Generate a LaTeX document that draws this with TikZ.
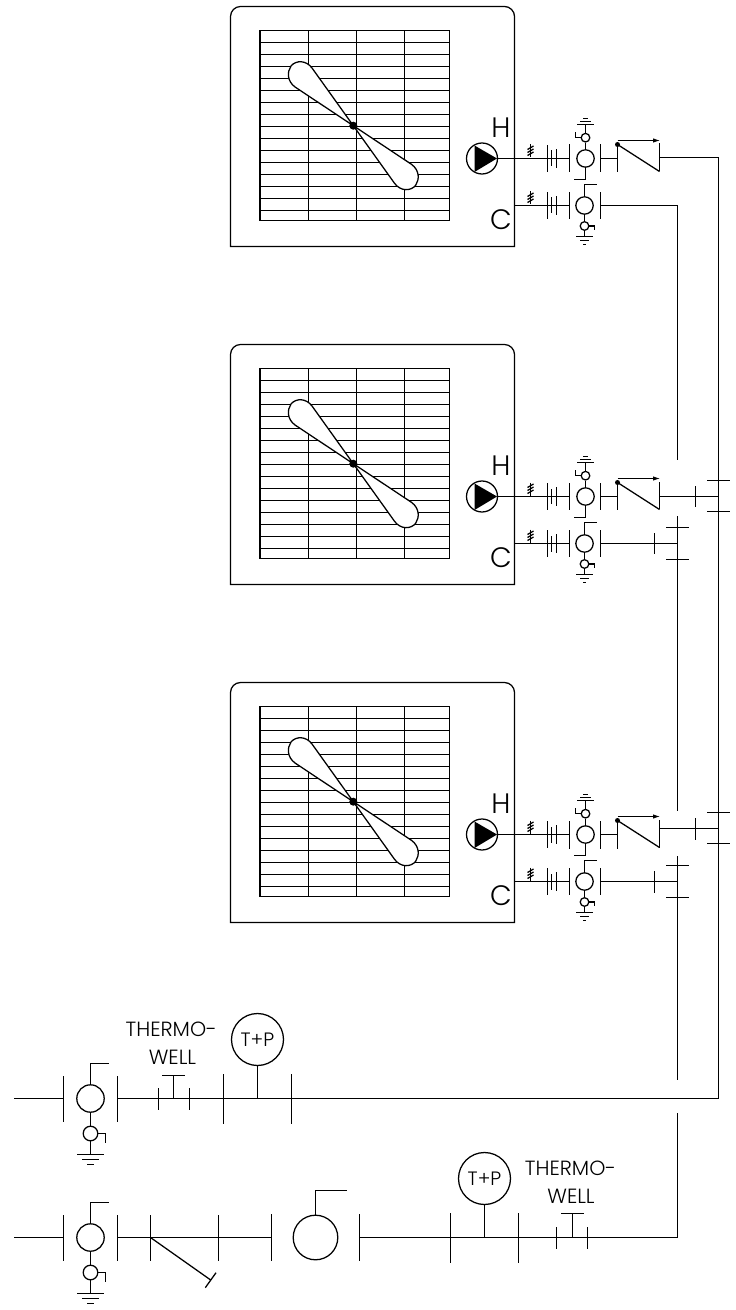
\documentclass[tikz,border=0pt]{standalone}
\usepackage{fontspec}
\setmainfont{Poppins Light}
\usetikzlibrary{arrows.meta}

\begin{document}
\begin{tikzpicture}[
    x=0.02cm, y=-0.02cm,
    line width=0.72pt,
    flange/.style={fill=black, inner sep=0pt, outer sep=0pt, minimum width=0.72pt, minimum height=#1},
    hbar/.style={fill=black, inner sep=0pt, outer sep=0pt, minimum height=0.72pt, minimum width=#1},
    valve/.style={circle, draw, fill=white, inner sep=0pt, minimum size=#1},
    gauge/.style={circle, draw, inner sep=0pt, minimum size=1.04cm, font=\fontsize{11}{12}\selectfont},
    tag/.style={font=\fontsize{16}{18}\selectfont},
    welltext/.style={font=\fontsize{11.7}{12}\selectfont, inner sep=0pt},
    arrow/.style={-{Latex[length=1.4mm, width=0.9mm]}, line width=0.55pt}
]
    \useasboundingbox (0,0) rectangle (735,1310);

    % Fan coil units
    \foreach \u/\dy in {a/0, b/338, c/676} {
        % Casing
        \draw (230.5,246.5+\dy) [rounded corners=0.2cm] -- (230.5,6.5+\dy) -- (514.5,6.5+\dy) -- (514.5,30+\dy) [sharp corners] -- (514.5,246.5+\dy) -- cycle;

        % Coil
        \draw (259.5,30.5+\dy) rectangle (449.5,220.5+\dy);
        \draw (260,30.5+\dy) -- (260,220.5+\dy);
        \foreach \vx in {308.5, 356.5, 404.5}
            \draw (\vx,30.5+\dy) -- (\vx,220.5+\dy);
        \foreach \r in {1,...,15}
            \draw (259.5,30.5+12*\r+\dy) -- (449.5,30.5+12*\r+\dy);

        % Fan
        \coordinate (hub\u) at (353.3,125.7+\dy);
        \draw[fill=white] (hub\u) -- (312,68+\dy) .. controls (306,60+\dy) and (296,60+\dy) .. (291,66+\dy)
            .. controls (287,72+\dy) and (287,81+\dy) .. (295,87+\dy) -- (hub\u);
        \draw[fill=white] (hub\u) -- (394.6,183.4+\dy) .. controls (400.6,191.4+\dy) and (410.6,191.4+\dy) .. (415.6,185.4+\dy)
            .. controls (419.6,179.4+\dy) and (419.6,170.4+\dy) .. (411.6,164.4+\dy) -- (hub\u);
        \fill (hub\u) circle (4);

        % Labels
        \node[tag] (tagH\u) at (501,128+\dy) {H};
        \node[tag] (tagC\u) at (501,220+\dy) {C};

        % Pump
        \node[valve=0.62cm] (pump\u) at (482,158.5+\dy) {};
        \fill (474.5,145.5+\dy) -- (497,158.5+\dy) -- (474.5,172+\dy) -- cycle;

        % Hot branch
        \node[flange=0.54cm] (uhA\u) at (547.5,158.5+\dy) {};
        \node[flange=0.32cm] (uhB\u) at (551.5,158.5+\dy) {};
        \node[flange=0.38cm] (uhC\u) at (556.5,158.5+\dy) {};
        \node[flange=0.56cm] (flHa\u) at (569.5,158.5+\dy) {};
        \node[valve=0.348cm] (valH\u) at (585.5,158.5+\dy) {};
        \node[flange=0.56cm] (flHb\u) at (600.5,158.5+\dy) {};
        \node[flange=0.56cm] (flHc\u) at (617.5,158.5+\dy) {};
        \node[flange=0.56cm] (flHd\u) at (659.5,157.5+\dy) {};
        \draw (pump\u.east) -- (flHa\u.center);
        \draw (flHb\u.center) -- (flHc\u.center);

        % Check valve
        \draw (flHc\u.north) -- (flHd\u.south);
        \fill (flHc\u.north) circle (2.5);
        \draw[arrow] (617.5,140.5+\dy) -- (660,140.5+\dy);

        % Hot side isolation valve
        \node[valve=0.172cm] (drnH\u) at (585.5,137.7+\dy) {};
        \node[hbar=0.34cm] (gndHa\u) at (585.5,124.5+\dy) {};
        \node[hbar=0.22cm] (gndHb\u) at (585.5,121.5+\dy) {};
        \node[hbar=0.1cm] (gndHc\u) at (585.5,118.5+\dy) {};
        \coordinate (hdlH\u) at (574,179.5+\dy);
        \coordinate (capH\u) at (575.5,132+\dy);
        \draw (valH\u.north) -- (drnH\u.south);
        \draw (drnH\u.north) -- (gndHa\u.center);
        \draw (valH\u.south) |- (hdlH\u);
        \draw (drnH\u.west) -| (capH\u);

        % Cold branch
        \node[flange=0.54cm] (ucA\u) at (547.5,205.5+\dy) {};
        \node[flange=0.32cm] (ucB\u) at (551.5,205.5+\dy) {};
        \node[flange=0.38cm] (ucC\u) at (556.5,205.5+\dy) {};
        \node[flange=0.54cm] (flCa\u) at (569.5,205.5+\dy) {};
        \node[valve=0.348cm] (valC\u) at (584.5,205.5+\dy) {};
        \node[flange=0.54cm] (flCb\u) at (600.5,205.5+\dy) {};
        \coordinate (boxC\u) at (514.5,205.5+\dy);
        \draw (boxC\u) -- (flCa\u.center);

        % Cold side isolation valve
        \node[valve=0.172cm] (drnC\u) at (584.5,226+\dy) {};
        \node[hbar=0.33cm] (gndCa\u) at (584.5,236.5+\dy) {};
        \node[hbar=0.18cm] (gndCb\u) at (584.5,240.5+\dy) {};
        \node[hbar=0.07cm] (gndCc\u) at (584.5,244.5+\dy) {};
        \coordinate (hdlC\u) at (596.7,184.5+\dy);
        \coordinate (capC\u) at (594.5,230+\dy);
        \draw (valC\u.south) -- (drnC\u.north);
        \draw (drnC\u.south) -- (gndCa\u.center);
        \draw (valC\u.north) |- (hdlC\u);
        \draw (drnC\u.east) -| (capC\u);

        % Strainer marks
        \foreach \yy in {158.5, 205.5} {
            \draw (530.5,\yy-14+\dy) -- (530.5,\yy-1+\dy);
            \foreach \k in {0,1,2}
                \draw (527.5,\yy-3-3*\k+\dy) -- (533.5,\yy-6.5-3*\k+\dy);
        }
    }

    % Risers
    \coordinate (hotTop) at (718.5,157.5);
    \coordinate (hotEnd) at (718.5,1098.5);
    \coordinate (coldTop) at (677.5,205.5);
    \coordinate (coldEnd) at (677.5,460);
    \draw (flHda.center) -- (hotTop) -- (hotEnd);
    \draw (flCba.center) -- (coldTop) -- (coldEnd);

    % Branch connections
    \foreach \u/\dy/\hy/\cbeg/\cend in {b/338/496.5/516/811, c/676/828.5/856/1080} {
        \node[hbar=0.45cm] (teeHa\u) at (718.5,\hy-16) {};
        \node[hbar=0.45cm] (teeHb\u) at (718.5,\hy+15) {};
        \node[flange=0.44cm] (capHot\u) at (695.5,\hy) {};
        \coordinate (hotFrom\u) at (659.5,\hy);
        \coordinate (hotJoin\u) at (718.5,\hy);
        \draw (hotFrom\u) -- (hotJoin\u);

        \node[hbar=0.45cm] (teeCa\u) at (677.5,189.5+\dy) {};
        \node[hbar=0.45cm] (teeCb\u) at (677.5,221.5+\dy) {};
        \node[flange=0.44cm] (capCold\u) at (654.5,205.5+\dy) {};
        \coordinate (coldJoin\u) at (677.5,205.5+\dy);
        \coordinate (coldA\u) at (677.5,\cbeg);
        \coordinate (coldB\u) at (677.5,\cend);
        \draw (flCb\u.center) -- (coldJoin\u);
        \draw (coldA\u) -- (coldB\u);
    }

    % Isolation valve sets at the headers
    \foreach \w/\hy in {s/1098.5, r/1237.5} {
        \coordinate (stub\w) at (14,\hy);
        \node[flange=0.92cm] (flA\w) at (63.5,\hy) {};
        \node[valve=0.548cm] (valM\w) at (90.5,\hy) {};
        \node[flange=0.92cm] (flB\w) at (117.5,\hy) {};
        \node[valve=0.292cm] (drn\w) at (90.5,\hy+35) {};
        \node[hbar=0.56cm] (gndA\w) at (90.5,\hy+56) {};
        \node[hbar=0.33cm] (gndB\w) at (90.5,\hy+61) {};
        \node[hbar=0.13cm] (gndC\w) at (90.5,\hy+66) {};
        \coordinate (hdl\w) at (109,\hy-35);
        \coordinate (cap\w) at (105.5,\hy+44);
        \draw (stub\w) -- (flA\w.center);
        \draw (valM\w.south) -- (drn\w.north);
        \draw (drn\w.south) -- (gndA\w.center);
        \draw (valM\w.north) |- (hdl\w);
        \draw (drn\w.east) -| (cap\w);
    }

    % Supply header
    \node[flange=0.44cm] (wellA) at (158.5,1098.5) {};
    \node[flange=0.44cm] (wellB) at (189.5,1098.5) {};
    \node[hbar=0.45cm] (wellTop) at (173.5,1075.5) {};
    \coordinate (wellFoot) at (173.5,1098.5);
    \draw (wellTop.center) -- (wellFoot);
    \node[welltext] (thermoA) at (171.3,1029) {THERMO-};
    \node[welltext] (wellTxtA) at (172.5,1057.5) {WELL};
    \node[flange=1cm] (tpA) at (223.5,1098.5) {};
    \node[flange=1cm] (tpB) at (291.5,1098.5) {};
    \node[gauge] (gaugeA) at (257.5,1039.5) {T+P};
    \coordinate (gaugeFootA) at (257.5,1098.5);
    \draw (gaugeA.south) -- (gaugeFootA);
    \draw (flBs.center) -- (hotEnd);

    % Return header
    \node[flange=0.92cm] (strA) at (150.5,1237.5) {};
    \node[flange=0.92cm] (strB) at (218.5,1237.5) {};
    \node[flange=0.94cm] (pumpFlA) at (271.5,1237.5) {};
    \coordinate (strFoot) at (210.7,1280);
    \coordinate (strCapA) at (216,1272.7);
    \coordinate (strCapB) at (205.3,1287.7);
    \node[valve=0.892cm] (tank) at (315.5,1237.5) {};
    \node[flange=0.94cm] (pumpFlB) at (359.5,1237.5) {};
    \coordinate (tankTag) at (346.7,1190.5);
    \draw (flBr.center) -- (pumpFlA.center);
    \draw (strA.center) -- (strFoot);
    \draw (strCapA) -- (strCapB);
    \draw (tank.north) |- (tankTag);

    \node[flange=1cm] (tpC) at (450.5,1237.5) {};
    \node[flange=1cm] (tpD) at (518.5,1237.5) {};
    \node[gauge] (gaugeB) at (484.5,1178.5) {T+P};
    \coordinate (gaugeFootB) at (484.5,1237.5);
    \draw (gaugeB.south) -- (gaugeFootB);
    \node[flange=0.44cm] (wellC) at (556.5,1237.5) {};
    \node[flange=0.44cm] (wellD) at (587.5,1237.5) {};
    \node[hbar=0.45cm] (wellTopB) at (572.5,1213.5) {};
    \coordinate (wellFootB) at (572.5,1237.5);
    \draw (wellTopB.center) -- (wellFootB);
    \node[welltext] (thermoB) at (570.5,1168) {THERMO-};
    \node[welltext] (wellTxtB) at (571,1196) {WELL};

    \coordinate (retCorner) at (677.5,1237.5);
    \coordinate (retEnd) at (677.5,1113);
    \draw (pumpFlB.center) -- (retCorner) -- (retEnd);
\end{tikzpicture}
\end{document}
